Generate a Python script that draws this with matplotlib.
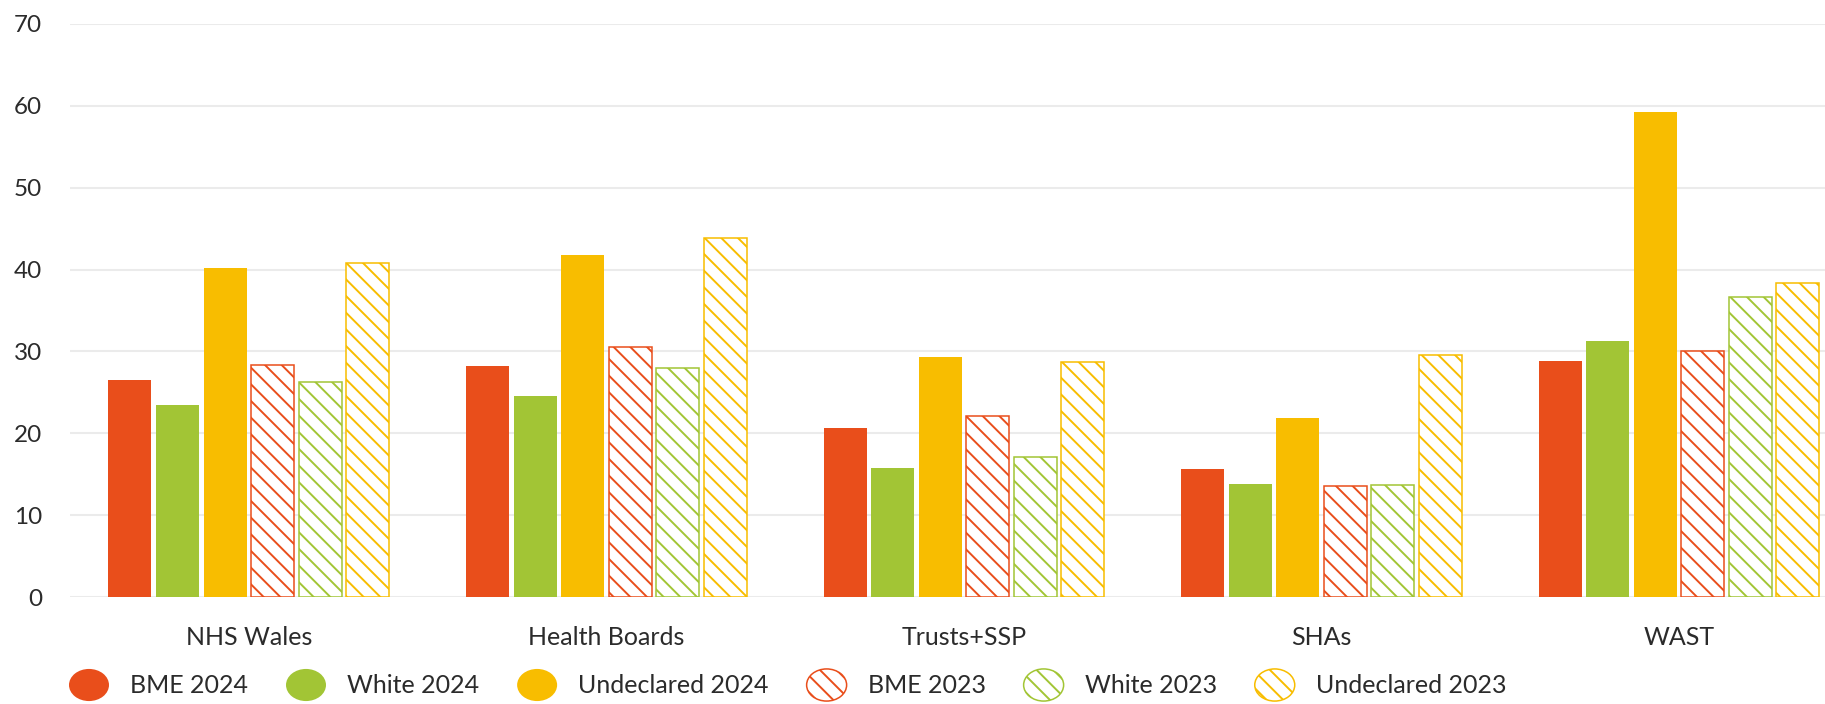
import matplotlib
matplotlib.use("Agg")
import matplotlib.pyplot as plt
import numpy as np
from matplotlib.patches import Patch, Ellipse
from matplotlib.legend_handler import HandlerPatch

plt.rcParams["font.family"] = ["Lato", "DejaVu Sans"]
plt.rcParams["hatch.linewidth"] = 1.4

# Data
categories = ["NHS Wales", "Health Boards", "Trusts+SSP", "SHAs", "WAST"]
series_labels = ["BME 2024", "White 2024", "Undeclared 2024",
                 "BME 2023", "White 2023", "Undeclared 2023"]
bme_2024 = [26.5, 28.2, 20.6, 15.6, 28.8]
white_2024 = [23.4, 24.5, 15.8, 13.8, 31.3]
undeclared_2024 = [40.2, 41.8, 29.3, 21.9, 59.3]
bme_2023 = [28.3, 30.6, 22.1, 13.5, 30.0]
white_2023 = [26.3, 28.0, 17.1, 13.7, 36.7]
undeclared_2023 = [40.8, 43.9, 28.7, 29.6, 38.3]
y_ticks = [0, 10, 20, 30, 40, 50, 60, 70]

series_values = [bme_2024, white_2024, undeclared_2024,
                 bme_2023, white_2023, undeclared_2023]

RED = "#E94E1B"
GREEN = "#A2C535"
YELLOW = "#F8BD00"
colors = [RED, GREEN, YELLOW, RED, GREEN, YELLOW]
hatched = [False, False, False, True, True, True]

W, H = 1825, 704
fig = plt.figure(figsize=(W / 100, H / 100), dpi=100)
ax = fig.add_axes([70 / W, (H - 597) / H, (W - 70) / W, (597 - 24) / H])

x = np.arange(len(categories))
pitch = 0.1329
bw = 0.1203
for k, (vals, c, h) in enumerate(zip(series_values, colors, hatched)):
    offs = (k - 2.5) * pitch
    if h:
        ax.bar(x + offs, vals, width=bw, facecolor="white", edgecolor=c,
               hatch="\\\\", linewidth=1.1, zorder=3)
    else:
        ax.bar(x + offs, vals, width=bw, color=c, linewidth=0, zorder=3)

ax.set_xlim(-0.5, 4.408)
ax.set_ylim(0, 70)
ax.set_yticks(y_ticks)
ax.set_xticks(x)
ax.set_xticklabels(categories)
ax.yaxis.grid(True, color="#ebebeb", linewidth=1.5, zorder=0)
ax.set_axisbelow(True)
for s in ax.spines.values():
    s.set_visible(False)
ax.tick_params(axis="both", length=0, colors="#2b2b2b")
ax.tick_params(axis="y", pad=20, labelsize=17.5)
ax.tick_params(axis="x", pad=21, labelsize=18)


def ellipse_handle(legend, orig_handle, xdescent, ydescent, width, height, fontsize):
    return Ellipse(xy=(0.5 * width - xdescent, 0.5 * height - ydescent),
                   width=width, height=height)


handles = []
for lab, c, h in zip(series_labels, colors, hatched):
    if h:
        handles.append(Patch(facecolor="white", edgecolor=c, hatch="\\\\",
                             linewidth=1.1, label=lab))
    else:
        handles.append(Patch(facecolor=c, edgecolor=c, linewidth=0, label=lab))

fs = 18
px = fs * 100 / 72
fig.legend(handles=handles, loc="center left",
           bbox_to_anchor=(69 / W, (H - 685) / H), ncol=6, frameon=False,
           fontsize=fs, handlelength=40 / px, handleheight=40 / px,
           handletextpad=21 / px, columnspacing=38 / px, borderpad=0,
           borderaxespad=0,
           handler_map={Patch: HandlerPatch(patch_func=ellipse_handle)},
           labelcolor="#2b2b2b")

fig.savefig("out.png", dpi=100)
